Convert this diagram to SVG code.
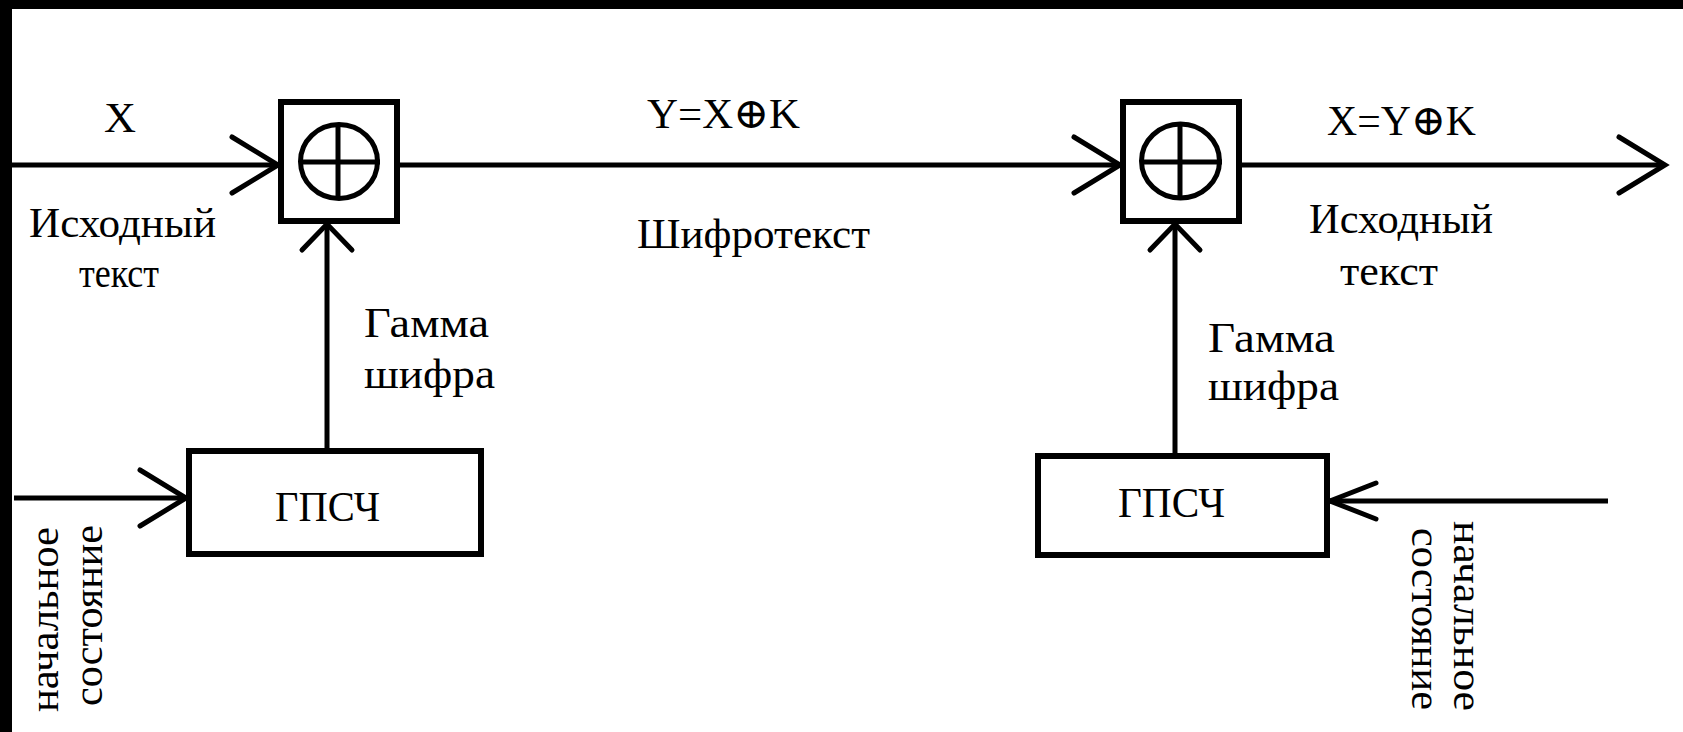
<svg xmlns="http://www.w3.org/2000/svg" width="1683" height="732" viewBox="0 0 1683 732">
  <style>
    .frame { fill: #000; }
    .box { fill: #fff; stroke: #000; stroke-width: 6; }
    .sym { fill: none; stroke: #000; stroke-width: 5; }
    .wire { fill: none; stroke: #000; stroke-width: 5; }
    .lbl { font-family: "Liberation Serif", "DejaVu Serif", serif; font-size: 43px; fill: #000; }
    .vlbl { font-family: "Liberation Serif", "DejaVu Serif", serif; font-size: 40px; fill: #000; }
  </style>
  <defs>
    <marker id="head" markerUnits="userSpaceOnUse" viewBox="-52 -36 56 72" markerWidth="56" markerHeight="72" refX="0" refY="0" orient="auto" overflow="visible">
      <path d="M-46,-28 L0,0 L-46,28" fill="none" stroke="#000" stroke-width="5" stroke-linecap="round"/>
    </marker>
    <marker id="head-up" markerUnits="userSpaceOnUse" viewBox="-32 -32 36 64" markerWidth="36" markerHeight="64" refX="0" refY="0" orient="auto" overflow="visible">
      <path d="M-26,-25 L0,0 L-26,25" fill="none" stroke="#000" stroke-width="5" stroke-linecap="round"/>
    </marker>
    <marker id="head-narrow" markerUnits="userSpaceOnUse" viewBox="-52 -24 56 48" markerWidth="56" markerHeight="48" refX="0" refY="0" orient="auto" overflow="visible">
      <path d="M-46,-18 L0,0 L-46,18" fill="none" stroke="#000" stroke-width="5" stroke-linecap="round"/>
    </marker>
  </defs>

  <rect x="0" y="0" width="1683" height="732" fill="#fff"/>
  <!-- dark frame along the top and left edges -->
  <rect class="frame" x="0" y="0" width="1683" height="9"/>
  <rect class="frame" x="0" y="0" width="12" height="732"/>

  <!-- connectors -->
  <g id="connectors">
    <line class="wire" x1="12" y1="165" x2="278" y2="165" marker-end="url(#head)"/>
    <line class="wire" x1="400" y1="165" x2="1120" y2="165" marker-end="url(#head)"/>
    <line class="wire" x1="1242" y1="165" x2="1665" y2="165" marker-end="url(#head)"/>
    <line class="wire" x1="327" y1="448" x2="327" y2="224" marker-end="url(#head-up)"/>
    <line class="wire" x1="1175" y1="453" x2="1175" y2="224" marker-end="url(#head-up)"/>
    <line class="wire" x1="14" y1="498" x2="186" y2="498" marker-end="url(#head)"/>
    <line class="wire" x1="1608" y1="501" x2="1330" y2="501" marker-end="url(#head-narrow)"/>
  </g>

  <!-- encrypting adder -->
  <g id="xor-enc">
    <rect class="box" x="281" y="102" width="116" height="119"/>
    <ellipse class="sym" cx="339" cy="161.5" rx="38.5" ry="37"/>
    <line class="sym" x1="338" y1="124" x2="338" y2="199"/>
    <line class="sym" x1="300" y1="162" x2="380" y2="162"/>
  </g>

  <!-- decrypting adder -->
  <g id="xor-dec">
    <rect class="box" x="1123" y="102" width="116" height="119"/>
    <ellipse class="sym" cx="1180.5" cy="161" rx="39" ry="37"/>
    <line class="sym" x1="1180" y1="124" x2="1180" y2="198"/>
    <line class="sym" x1="1141" y1="162" x2="1222" y2="162"/>
  </g>

  <!-- generator on the sending side -->
  <g id="prng-enc">
    <rect class="box" x="189" y="451" width="292" height="103"/>
    <text class="lbl" x="275" y="521" textLength="105" lengthAdjust="spacingAndGlyphs">ГПСЧ</text>
  </g>

  <!-- generator on the receiving side -->
  <g id="prng-dec">
    <rect class="box" x="1038" y="456" width="289" height="99"/>
    <text class="lbl" x="1118" y="517" textLength="107" lengthAdjust="spacingAndGlyphs">ГПСЧ</text>
  </g>

  <!-- signal labels -->
  <g id="labels">
    <text class="lbl" x="104" y="132" textLength="32" lengthAdjust="spacingAndGlyphs">X</text>
    <text class="lbl" x="29" y="237" textLength="187" lengthAdjust="spacingAndGlyphs">Исходный</text>
    <text class="lbl" x="79" y="287" textLength="80" lengthAdjust="spacingAndGlyphs">текст</text>

    <text class="lbl" x="647" y="128" textLength="153" lengthAdjust="spacingAndGlyphs">Y=X⊕K</text>
    <text class="lbl" x="637" y="248" textLength="233" lengthAdjust="spacingAndGlyphs">Шифротекст</text>

    <text class="lbl" x="1327" y="135" textLength="149" lengthAdjust="spacingAndGlyphs">X=Y⊕K</text>
    <text class="lbl" x="1309" y="233" textLength="184" lengthAdjust="spacingAndGlyphs">Исходный</text>
    <text class="lbl" x="1340" y="285" textLength="98" lengthAdjust="spacingAndGlyphs">текст</text>

    <text class="lbl" x="364" y="337" textLength="125" lengthAdjust="spacingAndGlyphs">Гамма</text>
    <text class="lbl" x="364" y="388" textLength="131" lengthAdjust="spacingAndGlyphs">шифра</text>

    <text class="lbl" x="1208" y="352" textLength="127" lengthAdjust="spacingAndGlyphs">Гамма</text>
    <text class="lbl" x="1208" y="400" textLength="131" lengthAdjust="spacingAndGlyphs">шифра</text>

    <text class="vlbl" transform="translate(58,712) rotate(-90)" textLength="185" lengthAdjust="spacingAndGlyphs">начальное</text>
    <text class="vlbl" transform="translate(102,706) rotate(-90)" textLength="181" lengthAdjust="spacingAndGlyphs">состояние</text>

    <text class="vlbl" transform="translate(1454,521) rotate(90)" textLength="190" lengthAdjust="spacingAndGlyphs">начальное</text>
    <text class="vlbl" transform="translate(1412,528) rotate(90)" textLength="182" lengthAdjust="spacingAndGlyphs">состояние</text>
  </g>
</svg>
